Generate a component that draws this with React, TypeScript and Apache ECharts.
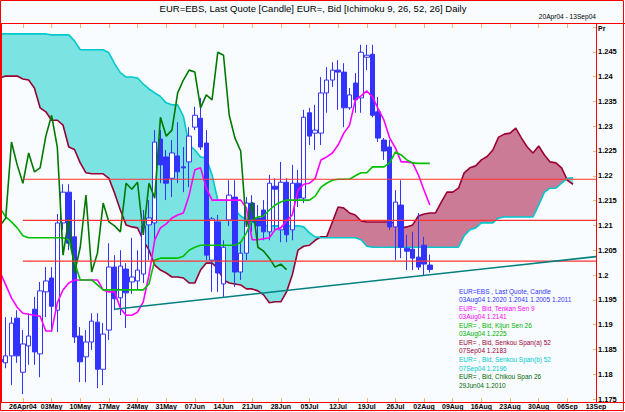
import React, { useEffect, useRef } from 'react';
import * as echarts from 'echarts';

const W = 625;
const H = 412;

const MONTHS = ['Jan', 'Feb', 'Mar', 'Apr', 'May', 'Jun', 'Jul', 'Aug', 'Sep', 'Oct', 'Nov', 'Dec'];

// trading days 20Apr04 .. 13Sep04 (weekdays)
function buildDays(): string[] {
  const out: string[] = [];
  const d = new Date(Date.UTC(2004, 3, 20));
  while (out.length < 105) {
    const wd = d.getUTCDay();
    if (wd !== 0 && wd !== 6) out.push(String(d.getUTCDate()).padStart(2, '0') + MONTHS[d.getUTCMonth()]);
    d.setUTCDate(d.getUTCDate() + 1);
  }
  return out;
}
const days = buildDays();

// Candles: [open, high, low, close], 20Apr04 .. 03Aug04
const candles: number[][] = [
  [1.1830, 1.1850, 1.1812, 1.1825],
  [1.1823, 1.1915, 1.1812, 1.1837],
  [1.1837, 1.1915, 1.1778, 1.1903],
  [1.1913, 1.1929, 1.1823, 1.1837],
  [1.1804, 1.1889, 1.1760, 1.1861],
  [1.1857, 1.1923, 1.1819, 1.1877],
  [1.1931, 1.1956, 1.1819, 1.1845],
  [1.1841, 1.1986, 1.1794, 1.1968],
  [1.1966, 1.2016, 1.1915, 1.1988],
  [1.1994, 1.2016, 1.1885, 1.1937],
  [1.1929, 1.2123, 1.1885, 1.2105],
  [1.2105, 1.2183, 1.2091, 1.2167],
  [1.2167, 1.2183, 1.2050, 1.2064],
  [1.2077, 1.2151, 1.1863, 1.1875],
  [1.1877, 1.1895, 1.1784, 1.1825],
  [1.1835, 1.1889, 1.1784, 1.1865],
  [1.1865, 1.1923, 1.1849, 1.1907],
  [1.1905, 1.1923, 1.1772, 1.1810],
  [1.1810, 1.1903, 1.1778, 1.1881],
  [1.1889, 1.2064, 1.1869, 1.2016],
  [1.2016, 1.2040, 1.1929, 1.1952],
  [1.1954, 1.2050, 1.1919, 1.2018],
  [1.2012, 1.2024, 1.1893, 1.1964],
  [1.1986, 1.2075, 1.1962, 1.1996],
  [1.1988, 1.2050, 1.1970, 1.2010],
  [1.2002, 1.2131, 1.1984, 1.2099],
  [1.2101, 1.2151, 1.2030, 1.2115],
  [1.2105, 1.2292, 1.2070, 1.2268],
  [1.2274, 1.2292, 1.2185, 1.2222],
  [1.2238, 1.2252, 1.2151, 1.2185],
  [1.2195, 1.2272, 1.2157, 1.2246],
  [1.2240, 1.2308, 1.2185, 1.2208],
  [1.2218, 1.2258, 1.2167, 1.2216],
  [1.2228, 1.2298, 1.2177, 1.2280],
  [1.2298, 1.2339, 1.2292, 1.2322],
  [1.2316, 1.2357, 1.2252, 1.2258],
  [1.2266, 1.2292, 1.2030, 1.2040],
  [1.2030, 1.2117, 1.1966, 1.2113],
  [1.2107, 1.2121, 1.1966, 1.2004],
  [1.1982, 1.2070, 1.1956, 1.2056],
  [1.2111, 1.2191, 1.2099, 1.2161],
  [1.2157, 1.2191, 1.1976, 1.2006],
  [1.2006, 1.2064, 1.1990, 1.2044],
  [1.2044, 1.2157, 1.2030, 1.2145],
  [1.2145, 1.2161, 1.2087, 1.2107],
  [1.2115, 1.2141, 1.2070, 1.2099],
  [1.2131, 1.2151, 1.2070, 1.2087],
  [1.2087, 1.2202, 1.2070, 1.2185],
  [1.2179, 1.2195, 1.2091, 1.2173],
  [1.2091, 1.2228, 1.2066, 1.2187],
  [1.2187, 1.2195, 1.2066, 1.2081],
  [1.2091, 1.2222, 1.2070, 1.2185],
  [1.2185, 1.2212, 1.2137, 1.2155],
  [1.2155, 1.2333, 1.2145, 1.2318],
  [1.2327, 1.2337, 1.2262, 1.2280],
  [1.2286, 1.2343, 1.2252, 1.2292],
  [1.2286, 1.2399, 1.2262, 1.2367],
  [1.2367, 1.2419, 1.2327, 1.2393],
  [1.2393, 1.2429, 1.2379, 1.2413],
  [1.2413, 1.2433, 1.2333, 1.2409],
  [1.2409, 1.2427, 1.2298, 1.2337],
  [1.2337, 1.2377, 1.2333, 1.2363],
  [1.2387, 1.2407, 1.2327, 1.2353],
  [1.2357, 1.2464, 1.2327, 1.2449],
  [1.2439, 1.2464, 1.2413, 1.2443],
  [1.2445, 1.2464, 1.2318, 1.2322],
  [1.2329, 1.2359, 1.2268, 1.2276],
  [1.2272, 1.2276, 1.2232, 1.2250],
  [1.2258, 1.2272, 1.2091, 1.2097],
  [1.2097, 1.2171, 1.2030, 1.2147],
  [1.2141, 1.2191, 1.2034, 1.2056],
  [1.2054, 1.2081, 1.2010, 1.2048],
  [1.2052, 1.2087, 1.2010, 1.2034],
  [1.2036, 1.2125, 1.2010, 1.2016],
  [1.2060, 1.2077, 1.2000, 1.2022],
  [1.2020, 1.2041, 1.2005, 1.2011],
];

const tenkan: number[] = [
  1.2006, 1.1980, 1.1954, 1.1935, 1.1923, 1.1921, 1.1919, 1.1917, 1.1887, 1.1887,
  1.1944, 1.1970, 1.1984, 1.1990, 1.1990, 1.1990, 1.1990, 1.1990, 1.1970, 1.1966,
  1.1966, 1.1933, 1.1919, 1.1919, 1.1925, 1.1946, 1.2000, 1.2071, 1.2095, 1.2103,
  1.2115, 1.2121, 1.2125, 1.2161, 1.2212, 1.2216, 1.2175, 1.2151, 1.2151, 1.2151,
  1.2151, 1.2151, 1.2151, 1.2135, 1.2071, 1.2071, 1.2073, 1.2075, 1.2091, 1.2095,
  1.2109, 1.2121, 1.2171, 1.2183, 1.2185, 1.2195, 1.2232, 1.2238, 1.2246, 1.2262,
  1.2286, 1.2302, 1.2353, 1.2361, 1.2371, 1.2359, 1.2335, 1.2312, 1.2276, 1.2256,
  1.2228, 1.2228, 1.2226, 1.2202, 1.2171, 1.2141,
];

const kijun: number[] = [
  1.2135, 1.2117, 1.2107, 1.2095, 1.2079, 1.2075, 1.2075, 1.2075, 1.2075, 1.2075,
  1.2075, 1.2075, 1.2071, 1.2026, 1.1990, 1.1990, 1.1990, 1.1980, 1.1970, 1.1970,
  1.1970, 1.1970, 1.1970, 1.1970, 1.1970, 1.1970, 1.1982, 1.2030, 1.2034, 1.2034,
  1.2034, 1.2034, 1.2038, 1.2050, 1.2056, 1.2060, 1.2060, 1.2060, 1.2060, 1.2060,
  1.2060, 1.2060, 1.2066, 1.2085, 1.2111, 1.2117, 1.2119, 1.2131, 1.2141, 1.2147,
  1.2151, 1.2151, 1.2151, 1.2151, 1.2151, 1.2159, 1.2177, 1.2185, 1.2191, 1.2193,
  1.2193, 1.2193, 1.2200, 1.2206, 1.2206, 1.2218, 1.2218, 1.2218, 1.2226, 1.2248,
  1.2242, 1.2232, 1.2226, 1.2225, 1.2225, 1.2225,
];

// Senkou spans, plotted 20Apr04 .. 07Sep04
const senkouA: number[] = [
  1.2397, 1.2401, 1.2401, 1.2401, 1.2395, 1.2393, 1.2377, 1.2337, 1.2329, 1.2312,
  1.2312, 1.2302, 1.2258, 1.2253, 1.2226, 1.2206, 1.2204, 1.2204, 1.2204, 1.2195,
  1.2165, 1.2131, 1.2101, 1.2097, 1.2095, 1.2070, 1.2050, 1.2020, 1.2010, 1.2004,
  1.1996, 1.1996, 1.1994, 1.1984, 1.1984, 1.2010, 1.2024, 1.2024, 1.2014, 1.1990,
  1.1984, 1.1982, 1.1980, 1.1972, 1.1972, 1.1968, 1.1960, 1.1944, 1.1946, 1.1946,
  1.1966, 1.2000, 1.2050, 1.2058, 1.2060, 1.2070, 1.2077, 1.2077, 1.2107, 1.2137,
  1.2135, 1.2125, 1.2121, 1.2109, 1.2107, 1.2107, 1.2107, 1.2107, 1.2107, 1.2105,
  1.2095, 1.2097, 1.2101, 1.2119, 1.2123, 1.2125, 1.2125, 1.2147, 1.2167, 1.2167,
  1.2175, 1.2206, 1.2216, 1.2220, 1.2232, 1.2239, 1.2252, 1.2278, 1.2284, 1.2286,
  1.2296, 1.2276, 1.2258, 1.2246, 1.2260, 1.2242, 1.2228, 1.2226, 1.2216, 1.2191,
  1.2183,
];

const senkouB: number[] = [
  1.2486, 1.2486, 1.2486, 1.2486, 1.2486, 1.2486, 1.2486, 1.2486, 1.2486, 1.2484,
  1.2484, 1.2484, 1.2484, 1.2472, 1.2454, 1.2454, 1.2454, 1.2454, 1.2454, 1.2448,
  1.2426, 1.2408, 1.2399, 1.2399, 1.2397, 1.2385, 1.2375, 1.2367, 1.2360, 1.2347,
  1.2343, 1.2343, 1.2320, 1.2262, 1.2252, 1.2238, 1.2236, 1.2202, 1.2151, 1.2151,
  1.2151, 1.2131, 1.2119, 1.2111, 1.2107, 1.2103, 1.2099, 1.2099, 1.2099, 1.2099,
  1.2099, 1.2099, 1.2099, 1.2097, 1.2085, 1.2077, 1.2075, 1.2075, 1.2075, 1.2075,
  1.2075, 1.2075, 1.2075, 1.2071, 1.2058, 1.2056, 1.2056, 1.2056, 1.2056, 1.2056,
  1.2056, 1.2056, 1.2056, 1.2056, 1.2056, 1.2056, 1.2056, 1.2056, 1.2056, 1.2056,
  1.2056, 1.2079, 1.2091, 1.2095, 1.2105, 1.2105, 1.2105, 1.2115, 1.2117, 1.2117,
  1.2117, 1.2117, 1.2117, 1.2117, 1.2141, 1.2167, 1.2175, 1.2175, 1.2185, 1.2195,
  1.2196,
];

const CHIKOU_SHIFT = 25;
const redLevels: number[] = [1.2193, 1.2110, 1.2028];
const redStartIndex = 4;
const trendPoints: [number, number][] = [[20, 1.1931], [104, 1.2037]];

const legendLines: [string, string][] = [
  ['EUR=EBS , Last Quote, Candle', '#3333ff'],
  ['03Aug04 1.2020 1.2041 1.2005 1.2011', '#3333ff'],
  ['EUR= , Bid, Tenkan Sen 9', '#ff00ff'],
  ['03Aug04 1.2141', '#ff00ff'],
  ['EUR= , Bid, Kijun Sen 26', '#00b000'],
  ['03Aug04 1.2225', '#00b000'],
  ['EUR= , Bid, Senkou Span(a) 52', '#990033'],
  ['07Sep04 1.2183', '#990033'],
  ['EUR= , Bid, Senkou Span(b) 52', '#00c8cc'],
  ['07Sep04 1.2196', '#00c8cc'],
  ['EUR= , Bid, Chikou Span 26', '#006600'],
  ['29Jun04 1.2010', '#006600'],
];

const FONT = 'Liberation Sans, Arial, sans-serif';
const TICK = '#f2b67a';

function buildOption() {
  const n = days.length;
  const pad = (arr: (number | string)[]) => {
    const out: (number | string)[] = arr.slice();
    while (out.length < n) out.push('-');
    return out;
  };
  const base = senkouA.map((a, i) => Math.min(a, senkouB[i]));
  const cyanH = senkouA.map((a, i) => Math.max(senkouB[i] - a, 0));
  const pinkH = senkouA.map((a, i) => Math.max(a - senkouB[i], 0));
  const chikou = candles.slice(CHIKOU_SHIFT).map((c) => c[3]);
  const ohlc = candles.map(([o, h, l, c]) => [o, c, l, h]);
  const tickInt = (i: number) => i >= 4 && (i - 4) % 5 === 0;

  const lineBase = {
    type: 'line',
    showSymbol: false,
    symbol: 'none',
    silent: true,
  };

  const series: any[] = [
    { ...lineBase, name: 'base', stack: 'cloud', data: pad(base), lineStyle: { opacity: 0, width: 0 }, z: 1 },
    { ...lineBase, name: 'cyan', stack: 'cloud', data: pad(cyanH), lineStyle: { opacity: 0, width: 0 }, areaStyle: { color: '#7ce3e3', opacity: 1 }, z: 1 },
    { ...lineBase, name: 'pink', stack: 'cloud', data: pad(pinkH), lineStyle: { opacity: 0, width: 0 }, areaStyle: { color: '#cc7b96', opacity: 1 }, z: 1 },
    { ...lineBase, name: 'Senkou A', data: pad(senkouA), lineStyle: { color: '#990033', width: 1.6 }, z: 2 },
    { ...lineBase, name: 'Senkou B', data: pad(senkouB), lineStyle: { color: '#00c8cc', width: 1.6 }, z: 2 },
    {
      type: 'candlestick',
      name: 'Candle',
      data: ohlc,
      barWidth: 5,
      silent: true,
      itemStyle: { color: '#ffffff', color0: '#3333ff', borderColor: '#3333ff', borderColor0: '#3333ff', borderWidth: 1 },
      z: 3,
    },
    { ...lineBase, name: 'Tenkan', data: pad(tenkan), lineStyle: { color: '#ff00ff', width: 1.6 }, z: 4 },
    { ...lineBase, name: 'Kijun', data: pad(kijun), lineStyle: { color: '#00c000', width: 1.6 }, z: 4 },
    { ...lineBase, name: 'Chikou', data: pad(chikou), lineStyle: { color: '#007800', width: 1.6 }, z: 4 },
    ...redLevels.map((v) => ({
      ...lineBase,
      name: 'level',
      data: days.map((_, i) => (i >= redStartIndex ? v : '-')),
      lineStyle: { color: '#ff3333', width: 1.2 },
      z: 5,
    })),
    { ...lineBase, name: 'trend', data: trendPoints, lineStyle: { color: '#008080', width: 1.6 }, z: 5 },
  ];

  const graphics: any[] = [
    { type: 'rect', shape: { x: 0.5, y: 0.5, width: 623, height: 410 }, style: { fill: 'none', stroke: '#ff0000', lineWidth: 1 }, z: 100 },
    { type: 'line', shape: { x1: 0, y1: 23.5, x2: W, y2: 23.5 }, style: { stroke: '#ff0000', lineWidth: 1 }, z: 100 },
    { type: 'line', shape: { x1: 0, y1: 402.5, x2: W, y2: 402.5 }, style: { stroke: '#ff0000', lineWidth: 1 }, z: 100 },
    { type: 'line', shape: { x1: 596.5, y1: 23, x2: 596.5, y2: 402 }, style: { stroke: '#ff0000', lineWidth: 1 }, z: 100 },
    { type: 'line', shape: { x1: 1.5, y1: 23, x2: 1.5, y2: 402 }, style: { stroke: '#ff0000', lineWidth: 1 }, z: 100 },
    {
      type: 'text', x: 313, y: 8, z: 100,
      style: { text: 'EUR=EBS, Last Quote [Candle] EUR=, Bid [Ichimoku 9, 26, 52, 26] Daily', fontSize: 9.5, fontFamily: FONT, fill: '#000', align: 'center', verticalAlign: 'middle', textAlign: 'center', textVerticalAlign: 'middle' },
    },
    {
      type: 'text', x: 596, y: 16.5, z: 100,
      style: { text: '20Apr04 - 13Sep04', fontSize: 6.6, fontFamily: FONT, fill: '#000', align: 'right', verticalAlign: 'middle', textAlign: 'right', textVerticalAlign: 'middle' },
    },
    {
      type: 'text', x: 598, y: 28.5, z: 100,
      style: { text: 'Pr', fontSize: 7, fontWeight: 'bold', fontFamily: FONT, fill: '#000', align: 'left', verticalAlign: 'middle', textAlign: 'left', textVerticalAlign: 'middle' },
    },
    ...legendLines.map(([t, c], k) => ({
      type: 'text', x: 459, y: 291 + k * 8.57, z: 100,
      style: { text: t, fontSize: 6.5, fontFamily: FONT, fill: c, align: 'left', verticalAlign: 'middle', textAlign: 'left', textVerticalAlign: 'middle' },
    })),
  ];

  return {
    animation: false,
    backgroundColor: '#f8fcff',
    grid: { left: 0, right: 29, top: 23, bottom: 10, show: false, containLabel: false },
    xAxis: [
      {
        type: 'category',
        data: days,
        boundaryGap: false,
        position: 'bottom',
        axisLine: { show: false },
        axisTick: { show: true, inside: true, length: 4, interval: tickInt, lineStyle: { color: TICK } },
        axisLabel: {
          interval: tickInt,
          formatter: (v: string, i: number) => (i === 4 ? v + '04' : v),
          fontSize: 7,
          fontWeight: 'bold',
          fontFamily: FONT,
          color: '#000',
          margin: 1,
        },
        splitLine: { show: false },
      },
      {
        type: 'category',
        data: days,
        boundaryGap: false,
        position: 'top',
        axisLine: { show: false },
        axisTick: { show: true, inside: true, length: 5, interval: tickInt, lineStyle: { color: TICK } },
        axisLabel: { show: false },
        splitLine: { show: false },
      },
    ],
    yAxis: {
      type: 'value',
      position: 'right',
      min: 1.1744,
      max: 1.2508,
      minInterval: 0.005,
      maxInterval: 0.005,
      axisLine: { show: false },
      splitLine: { show: false },
      axisTick: { show: true, inside: true, length: 3, lineStyle: { color: TICK } },
      axisLabel: {
        showMinLabel: false,
        showMaxLabel: false,
        margin: 2,
        fontSize: 7.5,
        fontWeight: 'bold',
        fontFamily: FONT,
        color: '#000',
        formatter: (v: number) => (v > 1.2478 ? '' : String(+v.toFixed(3))),
      },
    },
    series,
    graphic: graphics,
  };
}

export default function App() {
  const ref = useRef<HTMLDivElement>(null);
  useEffect(() => {
    if (!ref.current) return;
    const chart = echarts.init(ref.current, null, { renderer: 'svg', width: W, height: H });
    chart.setOption(buildOption() as any);
    return () => chart.dispose();
  }, []);
  return <div ref={ref} style={{ position: 'fixed', left: 0, top: 0, width: W, height: H }} />;
}
